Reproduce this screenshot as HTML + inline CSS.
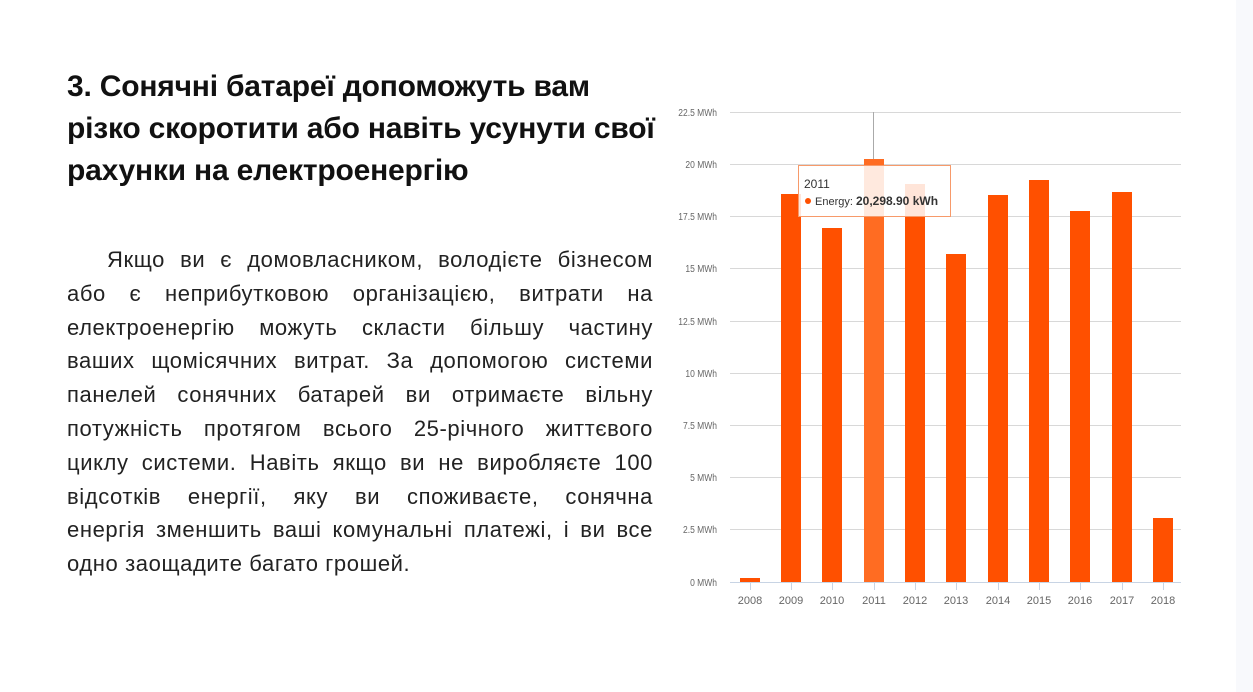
<!DOCTYPE html>
<html><head><meta charset="utf-8"><style>
body{margin:0;width:1253px;height:692px;background:#fff;position:relative;overflow:hidden;font-family:"Liberation Sans",sans-serif;}
.strip{position:absolute;left:1236px;top:0;width:17px;height:692px;background:#f8f9fc;}
h1{position:absolute;left:67px;top:66px;width:640px;margin:0;font-size:30px;line-height:42px;font-weight:bold;color:#111;white-space:nowrap;letter-spacing:-0.2px;}
.p{position:absolute;left:67px;top:243px;width:586px;font-size:22px;letter-spacing:0.6px;line-height:33.8px;color:#222;}
.p div{text-align:justify;text-align-last:justify;white-space:nowrap;}
.p div.last{text-align-last:left;}
svg{position:absolute;left:0;top:0;}
</style></head><body>
<div class="strip"></div>
<h1>3. Сонячні батареї допоможуть вам<br>різко скоротити або навіть усунути свої<br>рахунки на електроенергію</h1>
<div class="p">
<div style="padding-left:40px">Якщо ви є домовласником, володієте бізнесом</div>
<div>або є неприбутковою організацією, витрати на</div>
<div>електроенергію можуть скласти більшу частину</div>
<div>ваших щомісячних витрат. За допомогою системи</div>
<div>панелей сонячних батарей ви отримаєте вільну</div>
<div>потужність протягом всього 25-річного життєвого</div>
<div>циклу системи. Навіть якщо ви не виробляєте 100</div>
<div>відсотків енергії, яку ви споживаєте, сонячна</div>
<div>енергія зменшить ваші комунальні платежі, і ви все</div>
<div class="last">одно заощадите багато грошей.</div>
</div>
<svg width="1253" height="692" font-family="Liberation Sans, sans-serif">
<g stroke="#d8d8d8" stroke-width="1">
<line x1="730" x2="1181" y1="112.5" y2="112.5"/><line x1="730" x2="1181" y1="164.5" y2="164.5"/>
<line x1="730" x2="1181" y1="216.5" y2="216.5"/><line x1="730" x2="1181" y1="268.5" y2="268.5"/>
<line x1="730" x2="1181" y1="321.5" y2="321.5"/><line x1="730" x2="1181" y1="373.5" y2="373.5"/>
<line x1="730" x2="1181" y1="425.5" y2="425.5"/><line x1="730" x2="1181" y1="477.5" y2="477.5"/>
<line x1="730" x2="1181" y1="529.5" y2="529.5"/>
</g>
<line x1="730" x2="1181" y1="582.5" y2="582.5" stroke="#c8d4e4"/>
<g font-size="10" fill="#666" text-anchor="end" transform="translate(717,0) scale(0.85,1) translate(-717,0)">
<text x="717" y="116">22.5 MWh</text><text x="717" y="168">20 MWh</text><text x="717" y="220">17.5 MWh</text>
<text x="717" y="272">15 MWh</text><text x="717" y="325">12.5 MWh</text><text x="717" y="377">10 MWh</text>
<text x="717" y="429">7.5 MWh</text><text x="717" y="481">5 MWh</text><text x="717" y="533">2.5 MWh</text><text x="717" y="586">0 MWh</text>
</g>
<line x1="873.5" x2="873.5" y1="112" y2="160" stroke="#aaa"/>
<g fill="#ff5000">
<rect x="740" y="578" width="20" height="4"/>
<rect x="781" y="194" width="20" height="388"/>
<rect x="822" y="228" width="20" height="354"/>
<rect x="864" y="159" width="20" height="423" fill="#ff6c22"/>
<rect x="905" y="184" width="20" height="398"/>
<rect x="946" y="254" width="20" height="328"/>
<rect x="988" y="195" width="20" height="387"/>
<rect x="1029" y="180" width="20" height="402"/>
<rect x="1070" y="211" width="20" height="371"/>
<rect x="1112" y="192" width="20" height="390"/>
<rect x="1153" y="518" width="20" height="64"/>
</g>
<g stroke="#c8d4e4"><line x1="750.5" x2="750.5" y1="583" y2="590"/><line x1="791.5" x2="791.5" y1="583" y2="590"/><line x1="832.5" x2="832.5" y1="583" y2="590"/><line x1="874.5" x2="874.5" y1="583" y2="590"/><line x1="915.5" x2="915.5" y1="583" y2="590"/><line x1="956.5" x2="956.5" y1="583" y2="590"/><line x1="998.5" x2="998.5" y1="583" y2="590"/><line x1="1039.5" x2="1039.5" y1="583" y2="590"/><line x1="1080.5" x2="1080.5" y1="583" y2="590"/><line x1="1122.5" x2="1122.5" y1="583" y2="590"/><line x1="1163.5" x2="1163.5" y1="583" y2="590"/></g>
<g font-size="11" fill="#666" text-anchor="middle">
<text x="750" y="604">2008</text><text x="791" y="604">2009</text><text x="832" y="604">2010</text><text x="874" y="604">2011</text>
<text x="915" y="604">2012</text><text x="956" y="604">2013</text><text x="998" y="604">2014</text><text x="1039" y="604">2015</text>
<text x="1080" y="604">2016</text><text x="1122" y="604">2017</text><text x="1163" y="604">2018</text>
</g>
<rect x="798.5" y="165.5" width="152" height="51" fill="#fff" fill-opacity="0.85" stroke="#f79a6a"/>
<text x="804" y="188" font-size="12" fill="#333">2011</text>
<circle cx="808" cy="201" r="3" fill="#ff5000"/>
<text x="815" y="205" font-size="11" fill="#333">Energy: <tspan font-weight="bold" font-size="12">20,298.90 kWh</tspan></text>
</svg>
</body></html>
